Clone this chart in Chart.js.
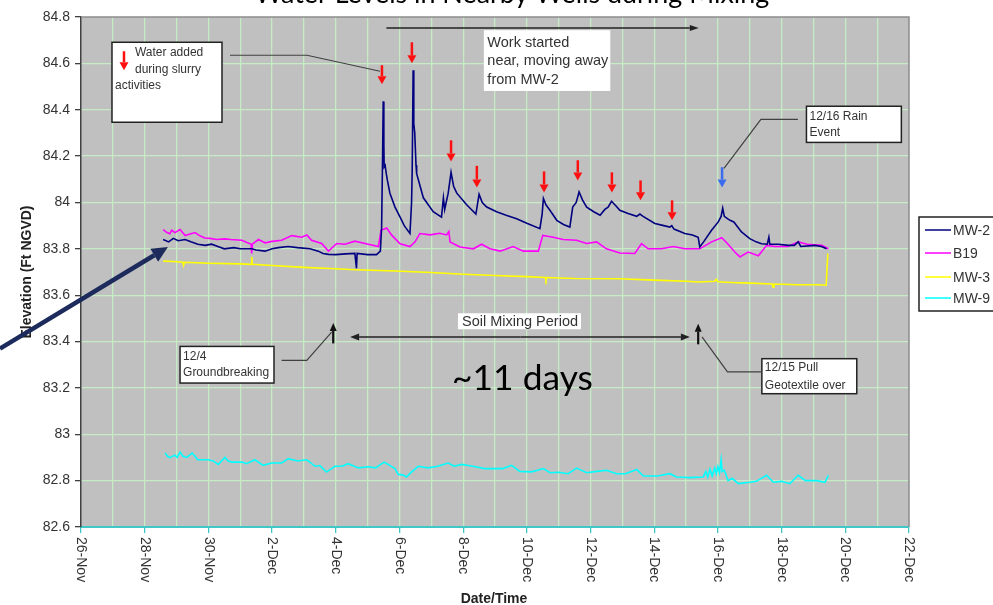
<!DOCTYPE html>
<html>
<head>
<meta charset="utf-8">
<script src="https://cdn.jsdelivr.net/npm/chart.js@4.4.0/dist/chart.umd.min.js"></script>
<style>
  html, body { margin: 0; padding: 0; background: #fff; }
  #wrap { width: 993px; height: 605px; }
</style>
</head>
<body>
<div id="wrap"><canvas id="chart" width="993" height="605"></canvas></div>
<script>
// x values are days counted from 26-Nov 00:00
const dateLabels = ['26-Nov', '28-Nov', '30-Nov', '2-Dec', '4-Dec', '6-Dec', '8-Dec', '10-Dec', '12-Dec', '14-Dec', '16-Dec', '18-Dec', '20-Dec', '22-Dec'];
const dateTicks = [0, 2, 4, 6, 8, 10, 12, 14, 16, 18, 20, 22, 24, 26];
const dayGrid = [0, 1, 2, 3, 4, 5, 6, 7, 8, 9, 10, 11, 12, 13, 14, 15, 16, 17, 18, 19, 20, 21, 22, 23, 24, 25, 26];
const elevTicks = [82.6, 82.8, 83, 83.2, 83.4, 83.6, 83.8, 84, 84.2, 84.4, 84.6, 84.8];
const seriesNames = ['MW-2', 'B19', 'MW-3', 'MW-9'];

const mw2 = [
  [2.58, 83.84], [2.75, 83.83], [2.9, 83.845], [3.05, 83.835], [3.27, 83.84], [3.45, 83.83], [3.67, 83.82],
  [3.9, 83.815], [4.1, 83.82], [4.3, 83.81], [4.5, 83.8], [4.8, 83.805], [5.0, 83.8], [5.36, 83.8],
  [5.5, 83.795], [5.78, 83.79], [6.0, 83.8], [6.2, 83.805], [6.5, 83.81], [6.8, 83.805], [7.19, 83.8],
  [7.45, 83.79], [7.6, 83.78], [7.77, 83.776], [8.0, 83.775], [8.3, 83.778], [8.6, 83.78], [8.65, 83.716],
  [8.67, 83.78], [9.0, 83.775], [9.28, 83.775], [9.4, 83.79], [9.44, 83.894], [9.47, 84.2], [9.49, 84.436],
  [9.51, 84.25], [9.52, 84.153], [9.55, 84.16], [9.58, 84.13], [9.62, 84.096], [9.7, 84.04], [9.86, 83.98],
  [10.02, 83.937], [10.15, 83.9], [10.33, 83.866], [10.38, 84.0], [10.4, 84.14], [10.43, 84.57], [10.45, 84.34],
  [10.48, 84.3], [10.52, 84.16], [10.54, 84.124], [10.75, 84.02], [11.06, 83.96], [11.32, 83.937], [11.38, 84.02],
  [11.42, 83.97], [11.53, 84.04], [11.62, 84.13], [11.7, 84.07], [11.8, 84.04], [12.11, 83.99], [12.4, 83.95],
  [12.5, 84.035], [12.6, 84.0], [12.74, 83.98], [13.05, 83.96], [13.35, 83.945], [13.68, 83.93], [14.0, 83.91],
  [14.41, 83.887], [14.48, 83.95], [14.52, 84.017], [14.6, 83.99], [14.73, 83.965], [14.94, 83.923], [15.15, 83.905],
  [15.35, 83.894], [15.44, 83.98], [15.55, 84.0], [15.64, 84.045], [15.75, 84.01], [15.88, 83.98], [16.1, 83.96],
  [16.3, 83.945], [16.45, 83.97], [16.55, 83.98], [16.66, 84.005], [16.8, 83.985], [16.92, 83.966], [17.18, 83.952],
  [17.45, 83.94], [17.55, 83.95], [17.65, 83.94], [18.02, 83.909], [18.3, 83.9], [18.49, 83.894], [18.55, 83.9],
  [18.62, 83.885], [18.96, 83.866], [19.2, 83.86], [19.38, 83.85], [19.43, 83.808], [19.55, 83.83], [19.8, 83.88],
  [20.01, 83.916], [20.1, 83.94], [20.15, 83.975], [20.2, 83.94], [20.3, 83.93], [20.38, 83.923], [20.5, 83.916],
  [20.74, 83.873], [21.0, 83.844], [21.2, 83.83], [21.37, 83.822], [21.55, 83.82], [21.6, 83.85], [21.63, 83.82],
  [21.9, 83.82], [22.21, 83.815], [22.4, 83.815], [22.52, 83.83], [22.6, 83.81], [23.05, 83.815], [23.25, 83.81],
  [23.41, 83.8]
];

const b19 = [
  [2.58, 83.883], [2.7, 83.87], [2.79, 83.865], [2.85, 83.88], [2.95, 83.87], [3.11, 83.883], [3.27, 83.857],
  [3.45, 83.865], [3.58, 83.87], [3.75, 83.855], [3.89, 83.847], [4.05, 83.845], [4.26, 83.84], [4.52, 83.843],
  [4.7, 83.84], [5.05, 83.837], [5.34, 83.82], [5.36, 83.78], [5.38, 83.82], [5.57, 83.84], [5.78, 83.826],
  [6.0, 83.832], [6.3, 83.837], [6.62, 83.857], [6.93, 83.85], [7.09, 83.86], [7.24, 83.837], [7.56, 83.823],
  [7.77, 83.79], [8.03, 83.823], [8.29, 83.82], [8.6, 83.833], [9.02, 83.82], [9.34, 83.81], [9.42, 83.88],
  [9.6, 83.89], [9.75, 83.86], [10.02, 83.822], [10.33, 83.81], [10.49, 83.83], [10.64, 83.866], [10.96, 83.86],
  [11.27, 83.867], [11.48, 83.86], [11.55, 83.875], [11.59, 83.83], [11.9, 83.808], [12.32, 83.8], [12.58, 83.82],
  [12.84, 83.8], [13.16, 83.79], [13.57, 83.81], [13.89, 83.79], [14.36, 83.79], [14.5, 83.858], [14.83, 83.85],
  [15.14, 83.84], [15.56, 83.837], [15.88, 83.823], [16.19, 83.83], [16.5, 83.8], [16.92, 83.782], [17.39, 83.78],
  [17.6, 83.822], [17.81, 83.8], [18.23, 83.8], [18.6, 83.81], [18.96, 83.8], [19.43, 83.8], [19.8, 83.83],
  [20.12, 83.848], [20.32, 83.82], [20.53, 83.786], [20.69, 83.765], [20.95, 83.786], [21.27, 83.77], [21.53, 83.815],
  [21.79, 83.81], [22.2, 83.81], [22.52, 83.83], [22.8, 83.82], [23.26, 83.815], [23.47, 83.8]
];

const mw3 = [
  [2.58, 83.747], [2.9, 83.745], [3.2, 83.742], [3.22, 83.728], [3.25, 83.742], [4.0, 83.738], [5.0, 83.735],
  [5.34, 83.733], [5.36, 83.765], [5.38, 83.733], [6.0, 83.728], [7.0, 83.72], [8.0, 83.714], [8.6, 83.71],
  [9.86, 83.704], [11.0, 83.698], [12.0, 83.69], [13.0, 83.685], [14.0, 83.68], [14.58, 83.676], [14.6, 83.666],
  [14.62, 83.676], [15.5, 83.672], [16.9, 83.671], [18.0, 83.665], [19.0, 83.66], [19.38, 83.657], [19.9, 83.66],
  [19.95, 83.668], [20.0, 83.658], [20.4, 83.655], [21.0, 83.652], [21.7, 83.648], [21.73, 83.634], [21.76, 83.648],
  [22.5, 83.645], [23.1, 83.645], [23.4, 83.643], [23.45, 83.78]
];

const mw9 = [
  [2.64, 82.919], [2.72, 82.905], [2.79, 82.899], [2.95, 82.91], [3.02, 82.9], [3.11, 82.923], [3.2, 82.905],
  [3.32, 82.9], [3.49, 82.919], [3.58, 82.905], [3.66, 82.89], [4.0, 82.89], [4.15, 82.885], [4.31, 82.87],
  [4.52, 82.9], [4.62, 82.885], [4.73, 82.88], [5.05, 82.88], [5.2, 82.873], [5.46, 82.89], [5.72, 82.866],
  [5.99, 82.876], [6.3, 82.876], [6.51, 82.895], [6.8, 82.885], [7.09, 82.89], [7.35, 82.862], [7.5, 82.865],
  [7.71, 82.837], [7.97, 82.862], [8.2, 82.862], [8.39, 82.873], [8.71, 82.855], [9.02, 82.86], [9.25, 82.855],
  [9.52, 82.88], [9.86, 82.852], [9.96, 82.827], [10.1, 82.825], [10.22, 82.816], [10.4, 82.84], [10.59, 82.862],
  [10.9, 82.855], [11.2, 82.862], [11.53, 82.876], [11.72, 82.862], [11.95, 82.87], [12.3, 82.862], [12.68, 82.852],
  [13.0, 82.852], [13.25, 82.852], [13.52, 82.866], [13.78, 82.84], [14.15, 82.838], [14.52, 82.852], [14.73, 82.834],
  [15.0, 82.836], [15.3, 82.83], [15.56, 82.854], [15.88, 82.834], [16.2, 82.84], [16.5, 82.845], [16.82, 82.83],
  [17.1, 82.83], [17.45, 82.848], [17.66, 82.82], [18.1, 82.82], [18.49, 82.83], [18.7, 82.816], [19.12, 82.813],
  [19.54, 82.816], [19.62, 82.84], [19.68, 82.815], [19.75, 82.85], [19.82, 82.82], [19.9, 82.855], [19.95, 82.83],
  [20.0, 82.86], [20.05, 82.835], [20.1, 82.89], [20.13, 82.84], [20.2, 82.845], [20.32, 82.8], [20.45, 82.81],
  [20.64, 82.787], [21.0, 82.793], [21.2, 82.797], [21.53, 82.823], [21.74, 82.793], [22.0, 82.797], [22.26, 82.787],
  [22.52, 82.823], [22.75, 82.8], [23.1, 82.8], [23.36, 82.793], [23.47, 82.823]
];

// annotation anchors, in days / feet
const redArrows = [[9.45, 84.592, 84.51], [10.39, 84.691, 84.6], [11.62, 84.268, 84.177], [12.43, 84.158, 84.065],
  [14.54, 84.134, 84.043], [15.6, 84.182, 84.095], [16.67, 84.13, 84.043], [17.57, 84.095, 84.009], [18.56, 84.009, 83.923]];
const blueArrow = [20.13, 84.152, 84.065];

const seriesColors = ['#000080', '#ff00ff', '#ffff00', '#00ffff'];
const gridGreen = '#c6ecc6';
const axisCyan = '#40c8c8';
const sans = "'Liberation Sans', Arial, sans-serif";
const calibriLike = "Lato, 'Open Sans', sans-serif";

function toXY(arr) {
  return arr.map(p => ({ x: p[0], y: p[1] }));
}

function arrow(ctx, x1, y1, x2, y2, color, width, headLen, headW) {
  const ang = Math.atan2(y2 - y1, x2 - x1);
  const bx = x2 - Math.cos(ang) * headLen;
  const by = y2 - Math.sin(ang) * headLen;
  ctx.strokeStyle = color;
  ctx.fillStyle = color;
  ctx.lineWidth = width;
  ctx.beginPath();
  ctx.moveTo(x1, y1);
  ctx.lineTo(bx, by);
  ctx.stroke();
  ctx.beginPath();
  ctx.moveTo(x2, y2);
  ctx.lineTo(bx + Math.sin(ang) * headW / 2, by - Math.cos(ang) * headW / 2);
  ctx.lineTo(bx - Math.sin(ang) * headW / 2, by + Math.cos(ang) * headW / 2);
  ctx.closePath();
  ctx.fill();
}

function polyline(ctx, pts, color, width) {
  ctx.strokeStyle = color;
  ctx.lineWidth = width;
  ctx.beginPath();
  pts.forEach((p, i) => i ? ctx.lineTo(p[0], p[1]) : ctx.moveTo(p[0], p[1]));
  ctx.stroke();
}

function box(ctx, x1, y1, x2, y2, bordered) {
  ctx.fillStyle = '#fff';
  ctx.fillRect(x1, y1, x2 - x1, y2 - y1);
  if (bordered) {
    ctx.strokeStyle = '#222';
    ctx.lineWidth = 1.5;
    ctx.strokeRect(x1, y1, x2 - x1, y2 - y1);
  }
}

function lines(ctx, x, y, rows, gap, font, color) {
  ctx.font = font;
  ctx.fillStyle = color || '#333';
  ctx.textAlign = 'left';
  ctx.textBaseline = 'alphabetic';
  rows.forEach((t, i) => ctx.fillText(t, x, y + i * gap));
}

const decor = {
  id: 'decor',
  beforeDraw(chart) {
    const a = chart.chartArea;
    const ctx = chart.ctx;
    ctx.save();
    ctx.fillStyle = '#c0c0c0';
    ctx.fillRect(a.left, a.top, a.right - a.left, a.bottom - a.top);
    ctx.restore();
  },
  beforeDatasetsDraw(chart) {
    const a = chart.chartArea;
    const ctx = chart.ctx;
    ctx.save();
    ctx.strokeStyle = '#8c8c8c';
    ctx.lineWidth = 1.5;
    ctx.beginPath();
    ctx.moveTo(a.left, a.top);
    ctx.lineTo(a.right, a.top);
    ctx.lineTo(a.right, a.bottom);
    ctx.stroke();
    ctx.restore();
  },
  afterDraw(chart) {
    const ctx = chart.ctx;
    const a = chart.chartArea;
    const xs = chart.scales.x;
    const ys = chart.scales.y;
    const X = d => xs.getPixelForValue(d);
    const Y = v => ys.getPixelForValue(v);
    ctx.save();

    // rotated date labels
    ctx.font = '14px ' + sans;
    ctx.fillStyle = '#333';
    ctx.textAlign = 'left';
    ctx.textBaseline = 'middle';
    dateTicks.forEach((d, i) => {
      ctx.save();
      ctx.translate(X(d), a.bottom + 10);
      ctx.rotate(Math.PI / 2);
      ctx.fillText(dateLabels[i], 0, 0);
      ctx.restore();
    });

    // axis titles
    ctx.font = 'bold 14px ' + sans;
    ctx.fillStyle = '#222';
    ctx.textAlign = 'center';
    ctx.textBaseline = 'alphabetic';
    ctx.fillText('Date/Time', 494, 603);
    ctx.save();
    ctx.translate(31, 272);
    ctx.rotate(-Math.PI / 2);
    ctx.fillText('Elevation (Ft NGVD)', 0, 0);
    ctx.restore();

    // title, mostly cut off by the top edge
    const title = 'Water Levels in Nearby Wells during Mixing';
    ctx.font = '24px ' + calibriLike;
    const tw = ctx.measureText(title).width;
    ctx.font = (24 * 515 / tw).toFixed(1) + 'px ' + calibriLike;
    ctx.fillStyle = '#000';
    ctx.fillText(title, 512, 3);

    // legend
    ctx.fillStyle = '#fff';
    ctx.fillRect(919, 217, 110, 94);
    ctx.strokeStyle = '#222';
    ctx.lineWidth = 1.5;
    ctx.strokeRect(919, 217, 110, 94);
    const legY = [230, 253, 277, 298];
    ctx.font = '14px ' + sans;
    ctx.textAlign = 'left';
    ctx.textBaseline = 'middle';
    seriesNames.forEach((n, i) => {
      polyline(ctx, [[925, legY[i]], [951, legY[i]]], seriesColors[i], 1.5);
      ctx.fillStyle = '#333';
      ctx.fillText(n, 953, legY[i] + 1);
    });

    // big pointer to the MW-2 trace
    arrow(ctx, X(-2.543), Y(83.37), X(2.73), Y(83.808), '#1c2a5c', 4.5, 16, 15);

    // water added box
    const b1 = [X(0.973), Y(84.691), X(4.427), Y(84.346)];
    box(ctx, b1[0], b1[1], b1[2], b1[3], true);
    arrow(ctx, b1[0] + 12, b1[1] + 9, b1[0] + 12, b1[1] + 28, '#ff1010', 2.5, 8, 9);
    lines(ctx, b1[0] + 23, b1[1] + 14, ['Water added', 'during slurry'], 17, '12px ' + sans);
    lines(ctx, b1[0] + 3, b1[1] + 47, ['activities'], 17, '12px ' + sans);
    polyline(ctx, [[X(4.678), Y(84.635)], [X(7.096), Y(84.635)], [X(9.388), Y(84.566)]], '#404040', 1.2);

    redArrows.forEach(r => arrow(ctx, X(r[0]), Y(r[1]), X(r[0]), Y(r[2]), '#ff1010', 2.5, 8, 9));
    arrow(ctx, X(blueArrow[0]), Y(blueArrow[1]), X(blueArrow[0]), Y(blueArrow[2]), '#3a6cf0', 2.5, 8, 9);

    // work started
    arrow(ctx, X(9.59), Y(84.753), X(19.4), Y(84.753), '#222', 1.5, 9, 6);
    const b2 = [X(12.65), Y(84.743), X(16.62), Y(84.481)];
    box(ctx, b2[0], b2[1], b2[2], b2[3], false);
    lines(ctx, b2[0] + 3.5, b2[1] + 16.7, ['Work started', 'near, moving away', 'from MW-2'], 18.4, '14.5px ' + sans);

    // rain event
    const b3 = [X(22.78), Y(84.415), X(25.76), Y(84.259)];
    polyline(ctx, [[X(22.51), Y(84.358)], [X(21.35), Y(84.358)], [X(20.19), Y(84.147)]], '#404040', 1.2);
    box(ctx, b3[0], b3[1], b3[2], b3[3], true);
    lines(ctx, b3[0] + 3, b3[1] + 13.3, ['12/16 Rain', 'Event'], 16.7, '12px ' + sans);

    // soil mixing period
    const b4 = [X(11.837), Y(83.522), X(15.7), Y(83.453)];
    box(ctx, b4[0], b4[1], b4[2], b4[3], false);
    lines(ctx, b4[0] + 4, b4[1] + 13, ['Soil Mixing Period'], 18, '14.5px ' + sans);
    const my = Y(83.42);
    arrow(ctx, X(13.8), my, X(8.45), my, '#222', 1.5, 9, 7);
    arrow(ctx, X(13.8), my, X(19.12), my, '#222', 1.5, 9, 7);

    // groundbreaking
    arrow(ctx, X(7.92), Y(83.392), X(7.92), Y(83.48), '#111', 2.2, 8, 7);
    polyline(ctx, [[X(6.3), Y(83.319)], [X(7.09), Y(83.319)], [X(7.87), Y(83.441)]], '#404040', 1.2);
    const b5 = [X(3.11), Y(83.379), X(6.06), Y(83.221)];
    box(ctx, b5[0], b5[1], b5[2], b5[3], true);
    lines(ctx, b5[0] + 3, b5[1] + 13.3, ['12/4', 'Groundbreaking'], 16.7, '12px ' + sans);

    // geotextile
    arrow(ctx, X(19.38), Y(83.388), X(19.38), Y(83.477), '#111', 2.2, 8, 7);
    polyline(ctx, [[X(19.5), Y(83.42)], [X(20.3), Y(83.269)], [X(21.35), Y(83.269)]], '#404040', 1.2);
    const b6 = [X(21.38), Y(83.326), X(24.36), Y(83.175)];
    box(ctx, b6[0], b6[1], b6[2], b6[3], true);
    lines(ctx, b6[0] + 3, b6[1] + 12.4, ['12/15 Pull', 'Geotextile over'], 17.6, '12px ' + sans);

    // duration note
    ctx.font = '32px ' + calibriLike;
    const dw = ctx.measureText('~11 days').width;
    ctx.font = (32 * 141 / dw).toFixed(1) + 'px ' + calibriLike;
    ctx.fillStyle = '#000';
    ctx.textAlign = 'left';
    ctx.textBaseline = 'alphabetic';
    ctx.fillText('~11 days', X(11.65), Y(83.19));

    ctx.restore();
  }
};

const datasets = [mw2, b19, mw3, mw9].map((s, i) => ({
  label: seriesNames[i],
  data: toXY(s),
  borderColor: seriesColors[i],
  borderWidth: 1.6,
  pointRadius: 0,
  tension: 0,
  fill: false
}));

const chart = new Chart(document.getElementById('chart'), {
  type: 'line',
  data: { datasets: datasets },
  options: {
    responsive: false,
    animation: false,
    devicePixelRatio: 1,
    layout: { padding: { top: 17, right: 84, left: 0, bottom: 0 } },
    plugins: { legend: { display: false }, tooltip: { enabled: false }, title: { display: false } },
    scales: {
      x: {
        type: 'linear',
        min: 0,
        max: 26,
        afterBuildTicks: s => { s.ticks = dayGrid.map(v => ({ value: v })); },
        afterFit: s => { s.height = 78; },
        ticks: { display: false },
        grid: {
          color: c => (c.tick && (c.tick.value === 0 || c.tick.value === 26)) ? 'rgba(0,0,0,0)' : gridGreen,
          lineWidth: 1.3,
          tickLength: 6,
          tickColor: c => (c.tick && dateTicks.includes(c.tick.value)) ? axisCyan : 'rgba(0,0,0,0)'
        },
        border: { color: axisCyan, width: 2 }
      },
      y: {
        min: 82.6,
        max: 84.8,
        afterBuildTicks: s => { s.ticks = elevTicks.map(v => ({ value: v })); },
        afterFit: s => { s.width = 81; },
        ticks: {
          padding: 5,
          color: '#333',
          font: { family: sans, size: 14 },
          callback: v => String(Number(v.toFixed(1)))
        },
        grid: {
          color: c => (c.tick && (c.tick.value === 82.6 || c.tick.value === 84.8)) ? 'rgba(0,0,0,0)' : gridGreen,
          lineWidth: 1.3,
          tickLength: 6,
          tickColor: '#404040'
        },
        border: { color: '#404040', width: 1.5 }
      }
    }
  },
  plugins: [decor]
});
</script>
</body>
</html>
